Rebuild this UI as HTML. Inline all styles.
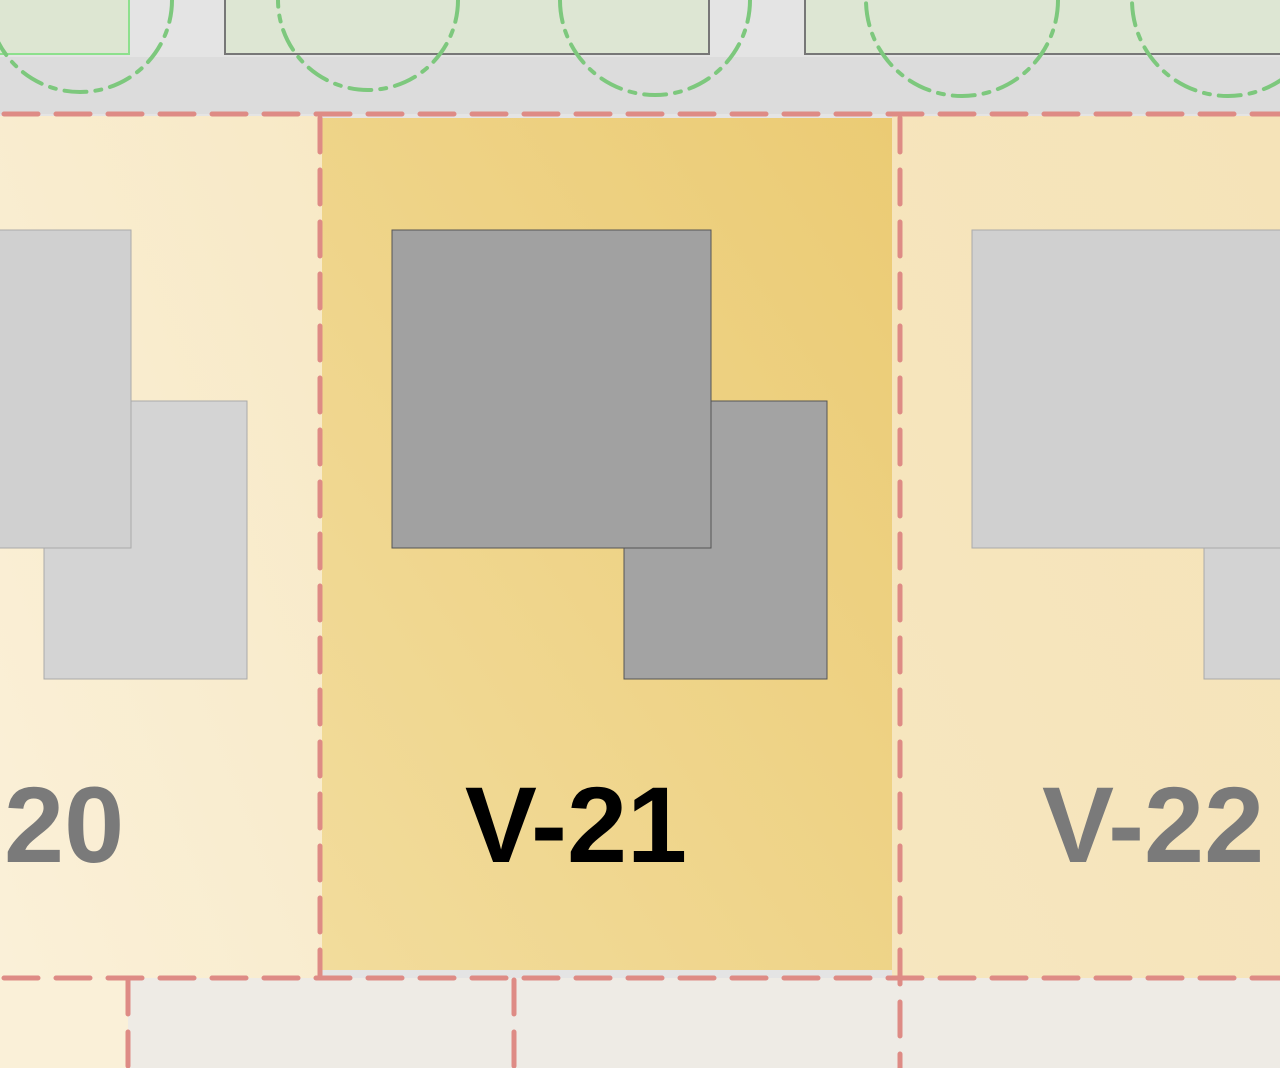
<!DOCTYPE html>
<html><head><style>html,body{margin:0;padding:0;background:#e4e4e4}svg{display:block}</style></head>
<body>
<svg width="1280" height="1068" viewBox="0 0 1280 1068" xmlns="http://www.w3.org/2000/svg">
<defs>
<linearGradient id="gl" x1="0" y1="1" x2="1" y2="0"><stop offset="0" stop-color="#faf0d8"/><stop offset="1" stop-color="#f8e9c6"/></linearGradient>
<linearGradient id="gm" x1="0" y1="1" x2="1" y2="0"><stop offset="0" stop-color="#f2dc9c"/><stop offset="1" stop-color="#ebcb74"/></linearGradient>
<linearGradient id="gr" x1="0" y1="1" x2="1" y2="0"><stop offset="0" stop-color="#f6e6bf"/><stop offset="1" stop-color="#f5e3b8"/></linearGradient>
</defs>
<rect width="1280" height="1068" fill="#e4e4e4"/>
<rect x="0" y="57" width="1280" height="57" fill="#dcdcdc"/>
<rect x="-2" y="-2" width="131" height="56" fill="#dde6d2" stroke="#8de08d" stroke-width="2"/>
<rect x="225" y="-2" width="484" height="56" fill="#dde6d3" stroke="#777" stroke-width="2"/>
<rect x="805" y="-2" width="480" height="56" fill="#dde6d3" stroke="#777" stroke-width="2"/>
<g fill="none" stroke="#7dc87d" stroke-width="4" stroke-dasharray="22 9 6 9" stroke-linecap="round">
<circle cx="80" cy="0" r="92"/><circle cx="368" cy="0" r="90"/><circle cx="655" cy="0" r="95"/><circle cx="962" cy="0" r="96"/><circle cx="1228" cy="0" r="96"/>
</g>
<rect x="0" y="978" width="1280" height="90" fill="#eeebe5"/>
<rect x="0" y="978" width="128" height="90" fill="#faf0d8"/>
<rect x="0" y="116" width="322" height="862" fill="url(#gl)"/>
<rect x="892" y="116" width="388" height="862" fill="url(#gr)"/>
<rect x="322" y="118" width="570" height="852" fill="url(#gm)"/>
<rect x="44" y="401" width="203" height="278" fill="#d4d4d4" stroke="#aaa"/>
<rect x="-2" y="230" width="133" height="318" fill="#d0d0d0" stroke="#aaa"/>
<rect x="624" y="401" width="203" height="278" fill="#a3a3a3" stroke="#555"/>
<rect x="392" y="230" width="319" height="318" fill="#a1a1a1" stroke="#555"/>
<rect x="1204" y="401" width="80" height="278" fill="#d3d3d3" stroke="#aaa"/>
<rect x="972" y="230" width="312" height="318" fill="#d0d0d0" stroke="#aaa"/>
<g stroke="#de8b85" stroke-width="5" stroke-dasharray="34 18" fill="none" stroke-linecap="round">
<line x1="4" y1="114" x2="1280" y2="114"/>
<line x1="4" y1="978" x2="1280" y2="978"/>
<line x1="320" y1="118" x2="320" y2="975"/>
<line x1="900" y1="118" x2="900" y2="1068"/>
<line x1="128" y1="980" x2="128" y2="1068"/>
<line x1="514" y1="980" x2="514" y2="1068"/>
</g>
<g font-family="Liberation Sans, sans-serif" font-weight="bold" font-size="108">
<text x="4" y="862" fill="#7a7a7a">20</text>
<text x="576" y="862" fill="#000" text-anchor="middle">V-21</text>
<text x="1042" y="862" fill="#7a7a7a">V-22</text>
</g>
</svg>
</body></html>
